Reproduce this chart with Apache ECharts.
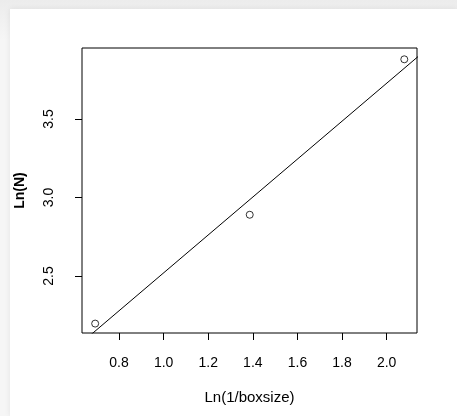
<!DOCTYPE html>
<html>
<head>
    <meta charset="utf-8">
    <title>Ln(N) vs Ln(1/boxsize)</title>
    <script src="https://cdn.jsdelivr.net/npm/echarts@6/dist/echarts.min.js"></script>
    <style>
        html, body { margin: 0; padding: 0; width: 457px; height: 416px; overflow: hidden; }
        body { background: linear-gradient(#ececec, #f6f6f6 40px, #f6f6f6); }
        .card {
            position: absolute; left: 10px; top: 9px; right: 0; bottom: 0;
            background: #fff; box-shadow: 0 0 6px rgba(0, 0, 0, 0.08);
        }
        #chart { position: absolute; left: 0; top: 0; width: 457px; height: 416px; }
    </style>
</head>
<body>
<div class="card"></div>
<div id="chart"></div>
<script>
    // box-counting data: ln(1/boxsize), ln(N)
    var lnInvBox = [0.693, 1.386, 2.079];
    var lnN = [2.197, 2.890, 3.880];

    // fitted straight line, two end points (clipped by the plot frame)
    var fitX = [0.60, 2.20];
    var fitY = [2.037, 3.969];

    // tick labels
    var xTicks = [0.8, 1.0, 1.2, 1.4, 1.6, 1.8, 2.0];
    var yTicks = [2.5, 3.0, 3.5];

    var points = lnInvBox.map(function (x, i) { return [x, lnN[i]]; });
    var fitLine = fitX.map(function (x, i) { return [x, fitY[i]]; });

    var chart = echarts.init(document.getElementById('chart'), null, { renderer: 'canvas' });
    var font = 'Liberation Sans, Arial, sans-serif';

    var option = {
        animation: false,
        backgroundColor: 'transparent',
        grid: {
            left: 82, top: 48, right: 40, bottom: 83,
            show: true, borderColor: '#000', borderWidth: 1, backgroundColor: '#fff'
        },
        xAxis: {
            type: 'value',
            min: 0.634, max: 2.136,
            name: 'Ln(1/boxsize)',
            nameLocation: 'middle',
            nameGap: 57,
            nameTextStyle: { color: '#000', fontSize: 15, fontFamily: font },
            axisLine: { show: false },
            axisTick: { show: true, length: 7, inside: false, customValues: xTicks,
                lineStyle: { color: '#000', width: 1 } },
            axisLabel: { customValues: xTicks, margin: 23, color: '#000', fontSize: 14, fontFamily: font,
                formatter: function (v) { return v.toFixed(1); } },
            splitLine: { show: false }
        },
        yAxis: {
            type: 'value',
            min: 2.137, max: 3.952,
            name: 'Ln(N)',
            nameLocation: 'middle',
            nameGap: 55,
            nameTextStyle: { color: '#000', fontSize: 14, fontWeight: 'bold', fontFamily: font },
            axisLine: { show: false },
            axisTick: { show: true, length: 7, inside: false, customValues: yTicks,
                lineStyle: { color: '#000', width: 1 } },
            axisLabel: { customValues: yTicks, rotate: 90, margin: 26, color: '#000', fontSize: 14, fontFamily: font,
                formatter: function (v) { return v.toFixed(1); } },
            splitLine: { show: false }
        },
        series: [
            {
                type: 'line',
                data: fitLine,
                symbol: 'none',
                clip: true,
                lineStyle: { color: '#000', width: 1 },
                z: 2
            },
            {
                type: 'scatter',
                data: points,
                symbol: 'circle',
                symbolSize: 7,
                itemStyle: { color: 'rgba(0,0,0,0)', borderColor: '#000', borderWidth: 1 },
                z: 3
            }
        ]
    };
    chart.setOption(option);

    window.onresize = function () {
        chart.resize();
    };
</script>
</body>
</html>
